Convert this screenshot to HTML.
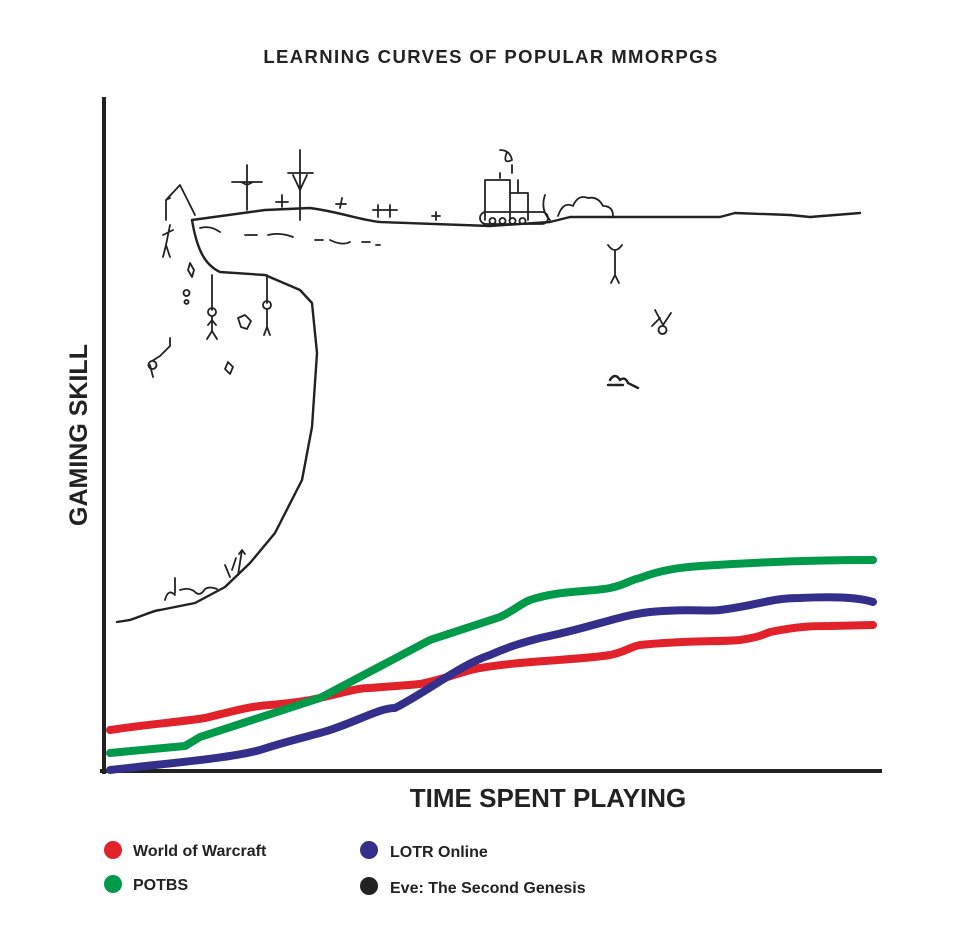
<!DOCTYPE html>
<html><head><style>
body{margin:0;background:#fff;width:960px;height:941px;overflow:hidden;font-family:"Liberation Sans",sans-serif;}
svg{position:absolute;left:0;top:0}
</style></head><body>
<svg width="960" height="941" viewBox="0 0 960 941">
<text x="491" y="63" text-anchor="middle" font-size="18.5" font-weight="bold" letter-spacing="1.4" fill="#222">LEARNING CURVES OF POPULAR MMORPGS</text>
<text transform="translate(87,435) rotate(-90)" text-anchor="middle" font-size="25" font-weight="bold" fill="#222">GAMING SKILL</text>
<text x="548" y="807" text-anchor="middle" font-size="26" font-weight="bold" fill="#222">TIME SPENT PLAYING</text>
<line x1="104" y1="97" x2="104" y2="774" stroke="#222" stroke-width="4"/>
<line x1="100" y1="771" x2="882" y2="771" stroke="#222" stroke-width="4"/>
<g fill="none" stroke="#222" stroke-width="2.4" stroke-linecap="round" stroke-linejoin="round">
<path d="M117,622 L130,620 C145,615 155,610 160,610 L195,603 L225,587 L250,563 L275,533 L302,480 L312,427 L317,353 L312,303 L300,290 L265,275 L220,272 C205,265 197,250 192,220"/>
<path d="M192,220 L265,210 L310,208 C340,212 360,220 380,222 L490,226 L550,222 L570,217 L720,217 L735,213 L790,215 L810,217 L860,213"/>
<path d="M200,228 q10,-3 20,4 M245,235 h12 M268,235 q12,-3 25,2 M315,240 h8 M330,240 q12,6 20,2 M362,242 h8 M376,245 h4" stroke-width="1.8"/>
<path d="M166,220 V200 L180,185 L195,215 M166,200 L170,198" stroke-width="1.8"/>
<path d="M170,225 L166,245 M166,245 l-3,12 M166,245 l4,12 M163,235 l10,-5" stroke-width="1.8"/>
<path d="M247,210 V165 M232,182 h30 M247,185 l-6,-3 M247,185 l6,-3 M276,202 h12 M282,195 v12 M300,220 V150 M288,173 h25 M293,175 l7,15 l7,-15 M342,198 l-2,10 M336,204 h10 M373,210 h12 M378,205 v12 M385,210 h12 M390,205 v12 M432,216 h8 M436,212 v8" stroke-width="1.8"/>
<path d="M212,275 V310 M208,312 a4,4 0 1,0 8,0 a4,4 0 1,0 -8,0 M212,316 v15 l-5,8 M212,331 l5,8 M208,325 l4,-5 l4,5 M267,275 V303 M263,305 a4,4 0 1,0 8,0 a4,4 0 1,0 -8,0 M267,309 v18 l-3,8 M267,327 l3,8" stroke-width="1.8"/>
<path d="M190,263 l4,7 l-2,7 l-4,-7z M238,318 l7,-3 l6,6 l-4,8 l-6,-2z M228,362 l5,5 l-3,7 l-5,-5z M186,290 a3,3 0 1,0 1,0 M186,300 a2,2 0 1,0 1,0" stroke-width="1.8"/>
<path d="M170,338 v8 l-10,10 M160,356 l-8,5 M152,361 a4,4 0 1,0 1,0 M150,365 l3,12" stroke-width="1.8"/>
<path d="M165,600 q3,-12 10,-5 M175,578 v15 M180,590 q10,-3 15,2 q5,5 10,-3 q5,-3 12,0 M238,575 l4,-25 M242,550 l-3,4 M242,550 l3,4 M232,570 l4,-12 M225,565 l5,12" stroke-width="1.8"/>
<path d="M485,220 V180 H510 V220 M510,193 H528 V220 M518,180 v13 M500,178 v-5 M484,212 h58 a6,6 0 0,1 0,12 h-56 a6,6 0 0,1 0,-12 M492,218 a3,3 0 1,0 1,0 M502,218 a3,3 0 1,0 1,0 M512,218 a3,3 0 1,0 1,0 M522,218 a3,3 0 1,0 1,0 M545,195 q-5,15 5,25 M500,150 q10,0 12,10 q-10,5 -5,-8 M512,165 v8" stroke-width="1.8"/>
<path d="M558,216 q5,-15 15,-10 q5,-12 15,-8 q10,-2 15,8 q10,0 10,10" stroke-width="1.8"/>
<path d="M615,250 v25 l-4,8 M615,275 l4,8 M608,245 q7,10 14,0" stroke-width="1.8"/>
<path d="M655,310 l8,15 l8,-12 M660,318 l-8,8 M662,326 a4,4 0 1,0 1,0" stroke-width="1.8"/>
<path d="M610,380 q5,-8 10,0 q5,-4 8,3 l10,5 M608,385 h15" stroke-width="2.4"/>
</g>
<g fill="none" stroke-width="8" stroke-linecap="round" stroke-linejoin="round">
<path stroke="#e2222b" d="M110,730 C150,724 180,722 205,718 C230,712 250,706 270,705 C290,703 300,702 310,700 C340,694 355,688 370,688 C395,686 410,685 420,684 C450,678 465,670 480,668 C530,660 580,660 610,655 C625,652 630,647 640,645 C690,640 720,642 740,640 C760,637 765,634 770,632 C800,626 815,626 830,626 L873,625"/>
<path stroke="#009a4a" d="M110,753 L185,746 C192,742 195,740 200,737 L320,698 L430,640 L500,617 C515,610 520,604 530,600 C560,590 590,592 610,588 C625,585 630,580 640,578 C665,568 690,567 700,566 C760,562 820,560 873,560"/>
<path stroke="#352f8c" d="M110,770 C180,762 230,758 260,750 C290,740 315,735 330,730 C360,720 380,708 395,708 C430,690 460,665 490,655 C510,646 525,642 540,638 C590,628 620,615 650,612 C690,608 705,612 720,610 C760,605 770,598 800,598 C840,596 860,598 873,602"/>
</g>
<circle cx="113" cy="850" r="9" fill="#e2222b"/>
<circle cx="113" cy="884" r="9" fill="#009a4a"/>
<circle cx="369" cy="850" r="9" fill="#352f8c"/>
<circle cx="369" cy="886" r="9" fill="#222"/>
<g font-size="16" font-weight="bold" fill="#222">
<text x="133" y="856">World of Warcraft</text>
<text x="133" y="890">POTBS</text>
<text x="390" y="857">LOTR Online</text>
<text x="390" y="893">Eve: The Second Genesis</text>
</g>
</svg>
</body></html>
